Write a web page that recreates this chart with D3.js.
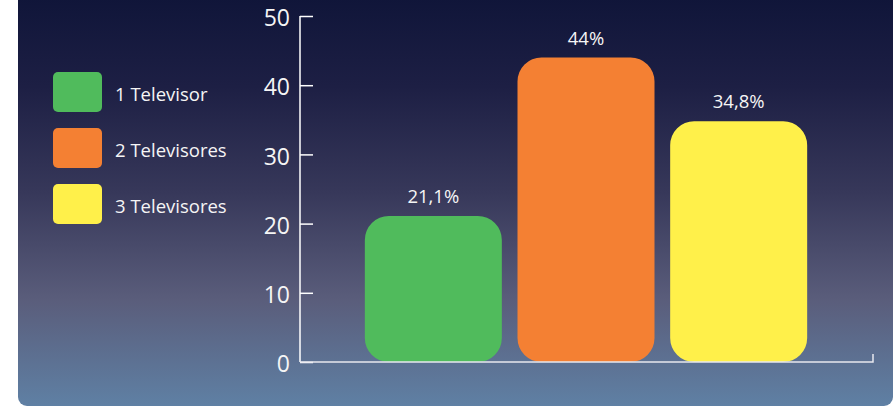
<!DOCTYPE html>
<html><head><meta charset="utf-8">
<script src="https://cdn.jsdelivr.net/npm/d3@7"></script>
<style>html,body{margin:0;padding:0;background:#fff;}svg{display:block;}</style>
</head><body>
<script>
const categories = ["1 Televisor", "2 Televisores", "3 Televisores"];
const values = [21.1, 44, 34.8];
const valueLabels = ["21,1%", "44%", "34,8%"];
const colors = ["#50bb5c", "#f48033", "#fff04a"];
const yTicks = [0, 10, 20, 30, 40, 50];

const W = 894, H = 407;
const svg = d3.select("body").append("svg").attr("width", W).attr("height", H);
const defs = svg.append("defs");
const grad = defs.append("linearGradient").attr("id", "bg").attr("x1", 0).attr("y1", 0).attr("x2", 0).attr("y2", 1);
[[0, "#0d1337"], [0.25, "#1d1f44"], [0.5, "#37385a"], [0.75, "#5a5d7b"], [1, "#5f80a4"]]
  .forEach(([o, c]) => grad.append("stop").attr("offset", o).attr("stop-color", c));

svg.append("rect").attr("x", 18).attr("y", -20).attr("width", 875).attr("height", H + 20 - 1)
  .attr("rx", 9).attr("fill", "url(#bg)");

const font = "'Open Sans', 'Noto Sans', sans-serif";
const x = d3.scaleBand().domain(categories).range([357, 815]).padding(0);
const y = d3.scaleLinear().domain([0, 50]).range([362, 16]);

// bars
const r = 24;
function roundedRect(x0, y0, w, h, rr) {
  const p = d3.path();
  rr = Math.min(rr, w / 2, h / 2);
  p.moveTo(x0 + rr, y0);
  p.lineTo(x0 + w - rr, y0);
  p.arcTo(x0 + w, y0, x0 + w, y0 + rr, rr);
  p.lineTo(x0 + w, y0 + h - rr);
  p.arcTo(x0 + w, y0 + h, x0 + w - rr, y0 + h, rr);
  p.lineTo(x0 + rr, y0 + h);
  p.arcTo(x0, y0 + h, x0, y0 + h - rr, rr);
  p.lineTo(x0, y0 + rr);
  p.arcTo(x0, y0, x0 + rr, y0, rr);
  p.closePath();
  return p.toString();
}
const bw = 137;
svg.selectAll("path.bar").data(values).enter().append("path").attr("class", "bar")
  .attr("d", (d, i) => {
    const cx = x(categories[i]) + x.bandwidth() / 2;
    return roundedRect(cx - bw / 2, y(d), bw, y(0) - y(d), r);
  })
  .attr("fill", (d, i) => colors[i]);

svg.selectAll("text.val").data(values).enter().append("text").attr("class", "val")
  .attr("x", (d, i) => x(categories[i]) + x.bandwidth() / 2)
  .attr("y", d => y(d) - 13)
  .attr("text-anchor", "middle")
  .attr("font-family", font).attr("font-size", 18.5).attr("fill", "#f5f5f5")
  .text((d, i) => valueLabels[i]);

// y axis
const yAxis = d3.axisRight(y).tickValues(yTicks).tickSize(13).tickFormat(d => "");
const ga = svg.append("g").attr("transform", "translate(300,0)").call(yAxis);
ga.select(".domain").remove();
ga.selectAll("line").attr("stroke", "#ffffff").attr("stroke-width", 1.5);
svg.append("line").attr("x1", 300).attr("x2", 300).attr("y1", y(50)).attr("y2", y(0))
  .attr("stroke", "#ffffff").attr("stroke-width", 1.5);
svg.selectAll("text.ytick").data(yTicks).enter().append("text").attr("class", "ytick")
  .attr("x", 290).attr("y", d => y(d) + 2).attr("dy", "0.36em")
  .attr("text-anchor", "end")
  .attr("font-family", font).attr("font-size", 23).attr("fill", "#f5f5f5")
  .text(d => d);

// x axis
svg.append("path").attr("d", `M300,${y(0)}H873V${y(0) - 8}`)
  .attr("fill", "none").attr("stroke", "#e8e8ee").attr("stroke-width", 1.5);

// legend
const lg = svg.append("g");
categories.forEach((c, i) => {
  const ly = 72 + i * 56;
  lg.append("rect").attr("x", 53).attr("y", ly).attr("width", 49).attr("height", 40)
    .attr("rx", 5).attr("fill", colors[i]);
  lg.append("text").attr("x", 115).attr("y", ly + 22).attr("dy", "0.36em")
    .attr("font-family", font).attr("font-size", 18.5).attr("fill", "#f5f5f5")
    .text(c);
});
</script>
</body></html>
